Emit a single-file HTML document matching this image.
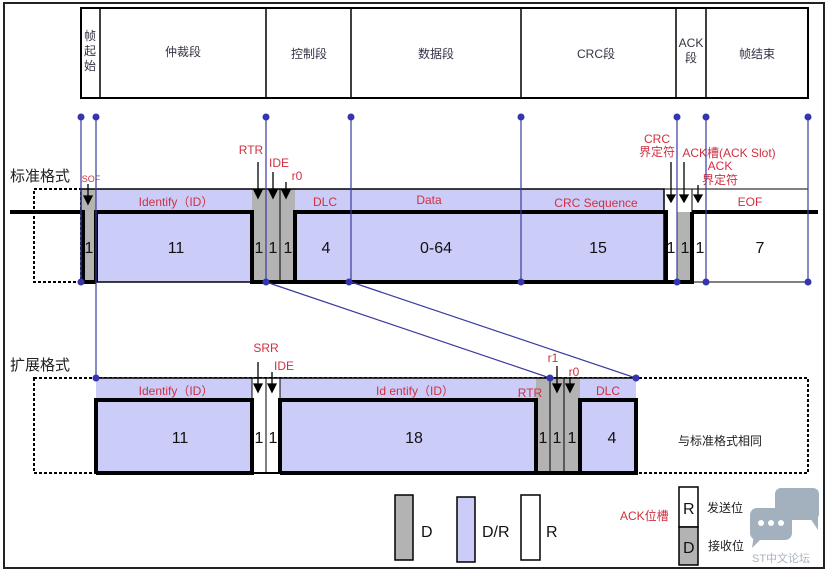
<!DOCTYPE html>
<html><head><meta charset="utf-8"><style>
html,body{margin:0;padding:0;background:#fff;}
svg{display:block;}
text{font-family:"Liberation Sans","Noto Sans CJK SC",sans-serif;}
</style></head><body>
<svg width="828" height="571" viewBox="0 0 828 571" xmlns="http://www.w3.org/2000/svg">
<rect x="0" y="0" width="828" height="571" fill="#fff"/>
<rect x="4" y="3" width="820" height="565" fill="none" stroke="#222" stroke-width="2"/>
<!-- header -->
<rect x="81" y="8" width="727" height="90" fill="#fff" stroke="#000" stroke-width="2"/>
<g stroke="#000" stroke-width="1.5">
<line x1="100" y1="8" x2="100" y2="98"/><line x1="266" y1="8" x2="266" y2="98"/>
<line x1="351" y1="8" x2="351" y2="98"/><line x1="521" y1="8" x2="521" y2="98"/>
<line x1="676" y1="8" x2="676" y2="98"/><line x1="706" y1="8" x2="706" y2="98"/>
</g>
<g fill="#334" font-size="12" text-anchor="middle">
<text x="90" y="40">帧</text><text x="90" y="55">起</text><text x="90" y="70">始</text>
<text x="183" y="56">仲裁段</text><text x="309" y="58">控制段</text><text x="436" y="58">数据段</text>
<text x="596" y="58">CRC段</text><text x="691" y="47">ACK</text><text x="691" y="62">段</text>
<text x="757" y="58">帧结束</text>
</g>
<!-- standard row -->
<rect x="34" y="189" width="47" height="93" fill="none" stroke="#000" stroke-width="2" stroke-dasharray="3,2"/>
<rect x="81" y="189" width="15" height="93" fill="#b3b3b3"/>
<rect x="96" y="189" width="156" height="93" fill="#ccccf8"/>
<rect x="252" y="189" width="43" height="93" fill="#b3b3b3"/>
<rect x="295" y="189" width="369" height="93" fill="#ccccf8"/>
<rect x="664" y="189" width="144" height="93" fill="#fff" stroke="#000" stroke-width="1"/>
<rect x="677" y="212" width="15" height="70" fill="#b3b3b3"/>
<rect x="81" y="189" width="583" height="93" fill="none" stroke="#000" stroke-width="1.5"/>
<g stroke="#000" stroke-width="1"><line x1="266" y1="189" x2="266" y2="282"/><line x1="280" y1="189" x2="280" y2="282"/><line x1="677" y1="189" x2="677" y2="282"/><line x1="692" y1="189" x2="692" y2="212"/><line x1="706" y1="189" x2="706" y2="282"/></g>
<g stroke="#000" stroke-width="4" fill="none">
<line x1="10" y1="212" x2="81" y2="212"/>
<polyline points="81,212 83,212 83,282 96,282"/>
<polyline points="96,282 96,212 252,212 252,282 295,282 295,212 664,212"/>
<line x1="296" y1="282" x2="664" y2="282"/>
<polyline points="664,212 666,212 666,282 677,282"/>
<line x1="692" y1="212" x2="818" y2="212"/>
<polyline points="677,282 692,282 692,212"/>
</g>
<line x1="700" y1="282" x2="808" y2="282" stroke="#000" stroke-width="1"/>
<g font-size="12" fill="#d03040" text-anchor="middle">
<text x="176" y="206">Identify（ID）</text><text x="325" y="206">DLC</text><text x="429" y="204">Data</text>
<text x="596" y="207">CRC Sequence</text><text x="750" y="206">EOF</text>
<text x="251" y="154">RTR</text><text x="279" y="167">IDE</text><text x="297" y="180">r0</text>
<text x="657" y="143">CRC</text><text x="657" y="156">界定符</text>
<text x="729" y="157">ACK槽(ACK Slot)</text><text x="720" y="170">ACK</text><text x="720" y="184">界定符</text>
<text x="91" y="182" font-size="9">SOF</text>
</g>
<g font-size="16" fill="#111" text-anchor="middle">
<text x="89" y="253">1</text><text x="176" y="253">11</text><text x="259" y="253">1</text><text x="273" y="253">1</text><text x="288" y="253">1</text>
<text x="326" y="253">4</text><text x="436" y="253">0-64</text><text x="598" y="253">15</text>
<text x="671" y="253">1</text><text x="685" y="253">1</text><text x="700" y="253">1</text><text x="760" y="253">7</text>
</g>
<g font-size="15" fill="#222"><text x="10" y="181">标准格式</text><text x="10" y="370">扩展格式</text></g>
<!-- extended row -->
<rect x="34" y="378" width="774" height="95" fill="none" stroke="#000" stroke-width="2" stroke-dasharray="3,2"/>
<rect x="96" y="378" width="156" height="95" fill="#ccccf8"/>
<rect x="252" y="378" width="28" height="95" fill="#fff"/>
<rect x="280" y="378" width="256" height="95" fill="#ccccf8"/>
<rect x="536" y="378" width="44" height="95" fill="#b3b3b3"/>
<rect x="580" y="378" width="56" height="95" fill="#ccccf8"/>
<line x1="96" y1="378" x2="636" y2="378" stroke="#000" stroke-width="1.5"/>
<g stroke="#000" stroke-width="1"><line x1="266" y1="378" x2="266" y2="473"/><line x1="280" y1="378" x2="280" y2="400"/><line x1="252" y1="378" x2="252" y2="400"/><line x1="550" y1="378" x2="550" y2="473"/><line x1="564" y1="378" x2="564" y2="473"/></g>
<g stroke="#000" stroke-width="4" fill="none">
<polyline points="96,473 96,400 252,400 252,473 96,473"/>
<line x1="252" y1="473" x2="280" y2="473" stroke-width="2"/>
<polyline points="280,473 280,400 536,400 536,473 280,473"/>
<line x1="536" y1="473" x2="580" y2="473"/>
<polyline points="580,473 580,400 636,400 636,473 580,473"/>
</g>
<g font-size="12" fill="#d03040" text-anchor="middle">
<text x="176" y="395">Identify（ID）</text><text x="415" y="395">Id entify（ID）</text>
<text x="530" y="397">RTR</text><text x="608" y="395">DLC</text>
<text x="266" y="352">SRR</text><text x="284" y="370">IDE</text><text x="553" y="362">r1</text><text x="574" y="376">r0</text>
</g>
<g font-size="16" fill="#111" text-anchor="middle">
<text x="180" y="443">11</text><text x="259" y="443">1</text><text x="273" y="443">1</text><text x="414" y="443">18</text>
<text x="543" y="443">1</text><text x="557" y="443">1</text><text x="572" y="443">1</text><text x="612" y="443">4</text>
</g>
<text x="720" y="445" font-size="12" fill="#222" text-anchor="middle">与标准格式相同</text>
<!-- vertical connectors -->
<g stroke="#3a3aa0" stroke-width="1.2">
<line x1="81" y1="117" x2="81" y2="282"/><line x1="96" y1="117" x2="96" y2="378"/>
<line x1="266" y1="117" x2="266" y2="282"/><line x1="351" y1="117" x2="351" y2="282"/>
<line x1="521" y1="117" x2="521" y2="282"/><line x1="677" y1="117" x2="677" y2="282"/>
<line x1="706" y1="117" x2="706" y2="282"/><line x1="808" y1="117" x2="808" y2="282"/>
<line x1="266" y1="282" x2="550" y2="378"/><line x1="351" y1="282" x2="636" y2="378"/>
</g>
<g fill="#3535b0">
<circle cx="81" cy="117" r="3.5"/><circle cx="96" cy="117" r="3.5"/><circle cx="266" cy="117" r="3.5"/><circle cx="351" cy="117" r="3.5"/>
<circle cx="521" cy="117" r="3.5"/><circle cx="677" cy="117" r="3.5"/><circle cx="706" cy="117" r="3.5"/><circle cx="808" cy="117" r="3.5"/>
<circle cx="81" cy="282" r="3.5"/><circle cx="266" cy="282" r="3.5"/><circle cx="349" cy="282" r="3.5"/><circle cx="521" cy="282" r="3.5"/>
<circle cx="677" cy="282" r="3.5"/><circle cx="706" cy="282" r="3.5"/><circle cx="808" cy="282" r="3.5"/>
<circle cx="96" cy="378" r="3.5"/><circle cx="550" cy="378" r="3.5"/><circle cx="636" cy="378" r="3.5"/>
</g>
<!-- arrows -->
<g stroke="#000" stroke-width="1.3" fill="#000">
<line x1="88" y1="184" x2="88" y2="198"/><polygon points="84,196 92,196 88,204"/>
<line x1="258" y1="162" x2="258" y2="190"/><polygon points="254,190 262,190 258,198"/>
<line x1="273" y1="172" x2="273" y2="190"/><polygon points="269,190 277,190 273,198"/>
<line x1="286" y1="182" x2="286" y2="190"/><polygon points="282,190 290,190 286,198"/>
<line x1="671" y1="162" x2="671" y2="195"/><polygon points="667,195 675,195 671,202"/>
<line x1="684" y1="162" x2="684" y2="195"/><polygon points="680,195 688,195 684,202"/>
<line x1="698" y1="185" x2="698" y2="195"/><polygon points="694,195 702,195 698,202"/>
<line x1="258" y1="362" x2="258" y2="384"/><polygon points="254,384 262,384 258,392"/>
<line x1="272" y1="372" x2="272" y2="384"/><polygon points="268,384 276,384 272,392"/>
<line x1="557" y1="366" x2="557" y2="384"/><polygon points="553,384 561,384 557,392"/>
<line x1="570" y1="378" x2="570" y2="384"/><polygon points="566,384 574,384 570,392"/>
</g>
<!-- legend -->
<rect x="395" y="495" width="18" height="65" fill="#b3b3b3" stroke="#000" stroke-width="1.5"/>
<rect x="457" y="497" width="18" height="65" fill="#ccccf8" stroke="#000" stroke-width="1.5"/>
<rect x="521" y="495" width="19" height="65" fill="#fff" stroke="#000" stroke-width="1.5"/>
<g font-size="16" fill="#111"><text x="421" y="537">D</text><text x="482" y="537">D/R</text><text x="546" y="537">R</text></g>
<text x="620" y="520" font-size="12" fill="#d03040">ACK位槽</text>
<rect x="679" y="487" width="19" height="40" fill="#fff" stroke="#000" stroke-width="1.5"/>
<rect x="679" y="527" width="19" height="38" fill="#b3b3b3" stroke="#000" stroke-width="1.5"/>
<g font-size="16" fill="#111"><text x="683" y="514">R</text><text x="683" y="553">D</text></g>
<g font-size="12" fill="#222"><text x="707" y="512">发送位</text><text x="708" y="550">接收位</text></g>
<!-- watermark -->
<g fill="#9aa8b8" opacity="0.9">
<rect x="775" y="488" width="44" height="32" rx="6"/>
<polygon points="808,515 818,515 818,530"/>
<rect x="750" y="508" width="42" height="32" rx="7"/>
<polygon points="754,535 762,538 752,548"/>
</g>
<g fill="#fff"><circle cx="761" cy="523" r="3"/><circle cx="771" cy="523" r="3"/><circle cx="781" cy="523" r="3"/></g>
<text x="752" y="562" font-size="11" fill="#a8b4c2">ST中文论坛</text>
</svg>
</body></html>
